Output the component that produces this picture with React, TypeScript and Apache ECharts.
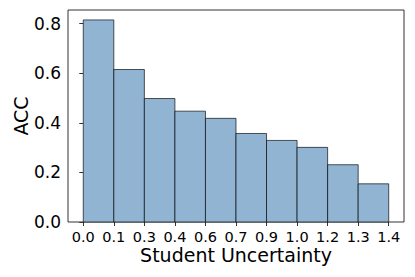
import React, { useEffect, useRef } from "react";
import * as echarts from "echarts";

const binLabels = ["0.0", "0.1", "0.3", "0.4", "0.6", "0.7", "0.9", "1.0", "1.2", "1.3", "1.4"];
const accValues = [0.815, 0.615, 0.498, 0.447, 0.418, 0.357, 0.329, 0.301, 0.231, 0.154];
const yTicks = [0, 0.2, 0.4, 0.6, 0.8];

export default function App() {
  const ref = useRef<HTMLDivElement>(null);
  useEffect(() => {
    const chart = echarts.init(ref.current!, null, { renderer: "svg" });
    const edgeIdx = binLabels.map((_, i) => i);
    const font = "DejaVu Sans";
    chart.setOption({
      animation: false,
      grid: {
        left: 68,
        top: 10,
        width: 336,
        height: 212,
        show: true,
        borderColor: "#333",
        borderWidth: 1,
        backgroundColor: "transparent",
        containLabel: false,
        outerBoundsMode: "none",
      },
      xAxis: {
        type: "value",
        min: -0.5,
        max: binLabels.length - 0.5,
        splitLine: { show: false },
        axisLine: { show: false },
        axisTick: { show: true, length: 4, lineStyle: { color: "#333" }, customValues: edgeIdx },
        axisLabel: {
          customValues: edgeIdx,
          formatter: (v: number) => binLabels[Math.round(v)] ?? "",
          fontFamily: font,
          fontSize: 14.5,
          color: "#000",
          margin: 7,
        },
        name: "Student Uncertainty",
        nameLocation: "middle",
        nameGap: 23,
        nameMoveOverlap: false,
        nameTextStyle: { fontFamily: font, fontSize: 19, color: "#000" },
      },
      yAxis: {
        type: "value",
        min: 0,
        max: 0.855,
        splitLine: { show: false },
        axisLine: { show: false },
        axisTick: { show: true, length: 4, lineStyle: { color: "#333" }, customValues: yTicks },
        axisLabel: {
          customValues: yTicks,
          formatter: (v: number) => v.toFixed(1),
          fontFamily: font,
          fontSize: 17,
          color: "#000",
          margin: 7,
        },
        name: "ACC",
        nameLocation: "middle",
        nameGap: 38,
        nameMoveOverlap: false,
        nameTextStyle: { fontFamily: font, fontSize: 19, color: "#000" },
      },
      series: [
        {
          type: "custom",
          data: accValues.map((v, i) => [i, v]),
          renderItem: (params: any, api: any) => {
            const i = api.value(0);
            const v = api.value(1);
            const p0 = api.coord([i, 0]);
            const p1 = api.coord([i + 1, v]);
            return {
              type: "rect",
              shape: { x: p0[0], y: p1[1], width: p1[0] - p0[0], height: p0[1] - p1[1] },
              style: { fill: "#90B4D2", stroke: "rgba(0,0,0,0.65)", lineWidth: 1 },
            };
          },
        },
      ],
    });
    return () => chart.dispose();
  }, []);
  return <div ref={ref} style={{ width: 415, height: 277, position: "absolute", left: 0, top: 0 }} />;
}
